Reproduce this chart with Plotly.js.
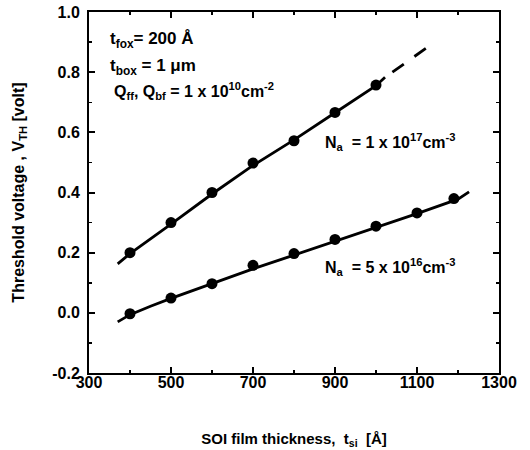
<!DOCTYPE html>
<html>
<head>
<meta charset="utf-8">
<script src="https://cdn.plot.ly/plotly-3.0.1.min.js"></script>
<style>html,body{margin:0;padding:0;background:#fff;}#chart{width:530px;height:450px;}</style>
</head>
<body>
<div id="chart"></div>
<script>
// Measured points
const thickness17 = [400, 500, 600, 700, 800, 900, 1000];
const vth17 = [0.200, 0.300, 0.400, 0.498, 0.572, 0.666, 0.757];
const thickness16 = [400, 500, 600, 700, 800, 900, 1000, 1100, 1190];
const vth16 = [-0.003, 0.049, 0.097, 0.158, 0.197, 0.244, 0.288, 0.332, 0.380];

// Fitted (model) curves
const fit17X = [370, 400, 500, 600, 700, 800, 900, 1000, 1022];
const fit17Y = [0.163, 0.197, 0.295, 0.395, 0.490, 0.575, 0.665, 0.755, 0.783];
const ext17X = [1040, 1141];
const ext17Y = [0.800, 0.898];
const fit16X = [370, 400, 450, 500, 600, 700, 800, 900, 1000, 1100, 1200, 1227];
const fit16Y = [-0.030, -0.006, 0.022, 0.048, 0.097, 0.146, 0.192, 0.238, 0.282, 0.330, 0.378, 0.402];

// Tick labels
const xTickVals = [300, 500, 700, 900, 1100, 1300];
const xTickText = ["300", "500", "700", "900", "1100", "1300"];
const yTickVals = [-0.2, 0.0, 0.2, 0.4, 0.6, 0.8, 1.0];
const yTickText = ["-0.2", "0.0", "0.2", "0.4", "0.6", "0.8", "1.0"];

const FONT = "Liberation Sans, Arial, Helvetica, sans-serif";
const lineStyle = {color: "black", width: 2.8};

const traces = [
  {x: fit17X, y: fit17Y, mode: "lines", line: lineStyle, hoverinfo: "skip"},
  {x: ext17X, y: ext17Y, mode: "lines", line: {color: "black", width: 2.8, dash: "14px,13px"}, hoverinfo: "skip"},
  {x: fit16X, y: fit16Y, mode: "lines", line: lineStyle, hoverinfo: "skip"},
  {x: thickness17, y: vth17, mode: "markers", marker: {color: "black", size: 11}},
  {x: thickness16, y: vth16, mode: "markers", marker: {color: "black", size: 11}}
];

const axisCommon = {
  showline: true, linecolor: "black", linewidth: 2, mirror: "ticks",
  ticks: "inside", ticklen: 6, tickwidth: 2, tickcolor: "black",
  showgrid: false, zeroline: false, tickmode: "array",
  tickfont: {family: FONT, size: 16, color: "black", weight: "bold"}
};

const layout = {
  width: 530, height: 450,
  margin: {l: 89, r: 31, t: 12, b: 77},
  paper_bgcolor: "white", plot_bgcolor: "white",
  showlegend: false,
  font: {family: FONT, color: "black"},
  xaxis: Object.assign({}, axisCommon, {
    range: [300, 1300], tickvals: xTickVals, ticktext: xTickText, ticklabelstandoff: -6,
    minor: {tickmode: "linear", tick0: 300, dtick: 100, ticks: "inside", ticklen: 3, tickwidth: 1.5, tickcolor: "black"},
    title: {text: "<b>SOI film thickness,  t<sub>si</sub>  [Å]</b>", font: {family: FONT, size: 15, color: "black"}, standoff: 43}
  }),
  yaxis: Object.assign({}, axisCommon, {
    range: [-0.2, 1.0], tickvals: yTickVals, ticktext: yTickText, ticklabelstandoff: 4,
    minor: {tickmode: "linear", tick0: 0, dtick: 0.1, ticks: "inside", ticklen: 3, tickwidth: 1.5, tickcolor: "black"},
    title: {text: "<b>Threshold voltage , V<sub>TH</sub> [volt]</b>", font: {family: FONT, size: 16, color: "black"}, standoff: 24}
  }),
  annotations: [
    {x: 346, y: 0.907, xref: "x", yref: "y", xanchor: "left", yanchor: "middle", showarrow: false,
     text: "<b>t<sub>fox</sub>= 200 Å</b>", font: {family: FONT, size: 17, color: "black"}},
    {x: 346, y: 0.818, xref: "x", yref: "y", xanchor: "left", yanchor: "middle", showarrow: false,
     text: "<b>t<sub>box</sub> = 1 μm</b>", font: {family: FONT, size: 17, color: "black"}},
    {x: 356, y: 0.738, xref: "x", yref: "y", xanchor: "left", yanchor: "middle", showarrow: false,
     text: "<b>Q<sub>ff</sub>, Q<sub>bf</sub> = 1 x 10<sup>10</sup>cm<sup>-2</sup></b>", font: {family: FONT, size: 16, color: "black"}},
    {x: 870, y: 0.568, xref: "x", yref: "y", xanchor: "left", yanchor: "middle", showarrow: false,
     text: "<b>N<sub>a</sub>  = 1 x 10<sup>17</sup>cm<sup>-3</sup></b>", font: {family: FONT, size: 16, color: "black"}},
    {x: 870, y: 0.153, xref: "x", yref: "y", xanchor: "left", yanchor: "middle", showarrow: false,
     text: "<b>N<sub>a</sub>  = 5 x 10<sup>16</sup>cm<sup>-3</sup></b>", font: {family: FONT, size: 16, color: "black"}}
  ]
};

Plotly.newPlot("chart", traces, layout, {staticPlot: true, displayModeBar: false});
</script>
</body>
</html>
